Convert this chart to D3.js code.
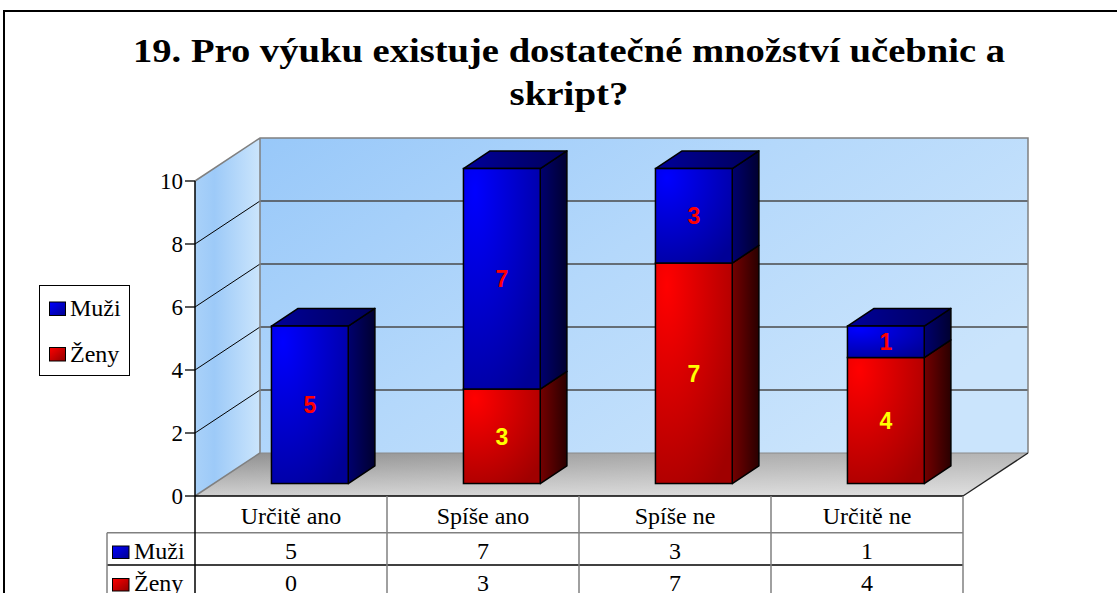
<!DOCTYPE html>
<html>
<head>
<meta charset="utf-8">
<script src="https://cdn.jsdelivr.net/npm/d3@7"></script>
<style>
  html,body{margin:0;padding:0;background:#fff;}
  svg{display:block;}
</style>
</head>
<body>
<svg id="chart" width="1117" height="593"></svg>
<script>
const titleLines = ["19. Pro výuku existuje dostatečné množství učebnic a", "skript?"];
const categories = ["Určitě ano", "Spíše ano", "Spíše ne", "Určitě ne"];
const seriesNames = ["Muži", "Ženy"];
const muzi = [5, 7, 3, 1];
const zeny = [0, 3, 7, 4];
const yTicks = [0, 2, 4, 6, 8, 10];

const svg = d3.select("#chart");
const defs = svg.append("defs");
const serif = "'Liberation Serif', 'Times New Roman', serif";

// geometry
const frontX0 = 195, frontX1 = 963;
const depthX = 65, depthY = -43;
const x = d3.scaleBand().domain(categories).range([frontX0, frontX1]);
const y = d3.scaleLinear().domain([0, 10]).range([496, 181]);
const barFront = 0.29, barDepth = 0.41, barWidthFrac = 0.4;

// gradients
function linGrad(id, x1, y1, x2, y2, stops) {
  const g = defs.append("linearGradient").attr("id", id)
    .attr("x1", x1).attr("y1", y1).attr("x2", x2).attr("y2", y2);
  stops.forEach(s => g.append("stop").attr("offset", s[0]).attr("stop-color", s[1]));
}
function radGrad(id, cx, cy, r, stops) {
  const g = defs.append("radialGradient").attr("id", id)
    .attr("cx", cx).attr("cy", cy).attr("r", r).attr("fx", cx).attr("fy", cy);
  stops.forEach(s => g.append("stop").attr("offset", s[0]).attr("stop-color", s[1]));
}
linGrad("backWall", "0", "0", "1", "0.6", [[0, "#98c8f9"], [0.5, "#b4d8fb"], [1, "#cae4fc"]]);
linGrad("sideWall", "0", "0", "1", "0", [[0, "#a9d1f9"], [0.3, "#9dcaf8"], [1, "#cbe5fc"]]);
linGrad("floor", "0", "0", "0", "1", [[0, "#8e8e8e"], [1, "#d0d0d0"]]);
linGrad("floorLight", "0", "0", "1", "0", [[0, "rgba(255,255,255,0)"], [0.6, "rgba(255,255,255,0.25)"], [1, "rgba(255,255,255,0.35)"]]);
radGrad("blueFront", "0.15", "0.1", "1.1", [[0, "#0000ff"], [1, "#000096"]]);
radGrad("redFront", "0.15", "0.1", "1.1", [[0, "#ff0000"], [1, "#a00000"]]);
linGrad("blueSide", "0", "0", "1", "0", [[0, "#00006e"], [1, "#000030"]]);
linGrad("redSide", "0", "0", "1", "0", [[0, "#740000"], [1, "#2a0000"]]);
linGrad("blueTop", "0", "0", "1", "0", [[0, "#00009a"], [1, "#00005a"]]);
linGrad("blueKey", "0", "0", "1", "1", [[0, "#0000ff"], [1, "#000090"]]);
linGrad("redKey", "0", "0", "1", "1", [[0, "#ff0000"], [1, "#900000"]]);

// frame
svg.append("rect").attr("x", 4).attr("y", 11).attr("width", 1140).attr("height", 620)
  .attr("fill", "#fff").attr("stroke", "#000").attr("stroke-width", 2);

// title
svg.selectAll("text.title").data(titleLines).join("text")
  .attr("class", "title")
  .attr("x", 569).attr("y", (d, i) => 62 + i * 43)
  .attr("text-anchor", "middle")
  .attr("font-family", serif)
  .attr("font-weight", "bold").attr("font-size", 34)
  .attr("textLength", (d, i) => i === 0 ? 872 : 119)
  .attr("lengthAdjust", "spacingAndGlyphs")
  .text(d => d);

const y0 = y(0), y10 = y(10);
const bx0 = frontX0 + depthX, bx1 = frontX1 + depthX;

// side wall
svg.append("polygon")
  .attr("points", [[frontX0, y0], [frontX0, y10], [bx0, y10 + depthY], [bx0, y0 + depthY]].join(" "))
  .attr("fill", "url(#sideWall)").attr("stroke", "none");
// back wall
svg.append("rect").attr("x", bx0).attr("y", y10 + depthY)
  .attr("width", bx1 - bx0).attr("height", y0 - y10)
  .attr("fill", "url(#backWall)");
// floor
const floorPts = [[frontX0, y0], [frontX1, y0], [bx1, y0 + depthY], [bx0, y0 + depthY]].join(" ");
svg.append("polygon").attr("points", floorPts).attr("fill", "url(#floor)");
svg.append("polygon").attr("points", floorPts).attr("fill", "url(#floorLight)");

// gridlines on back wall and side wall
const gridTicks = yTicks.filter(t => t > 0 && t < 10);
svg.selectAll("line.gridBack").data(gridTicks).join("line")
  .attr("x1", bx0).attr("x2", bx1)
  .attr("y1", d => y(d) + depthY).attr("y2", d => y(d) + depthY)
  .attr("stroke", "#4a4a4a").attr("stroke-width", 1.3);
svg.selectAll("line.gridSide").data(gridTicks).join("line")
  .attr("x1", frontX0).attr("x2", bx0)
  .attr("y1", d => y(d)).attr("y2", d => y(d) + depthY)
  .attr("stroke", "#000").attr("stroke-width", 1);

// wall borders
svg.append("path")
  .attr("d", `M${frontX0},${y10} L${bx0},${y10 + depthY} L${bx1},${y10 + depthY} L${bx1},${y0 + depthY} M${bx0},${y10 + depthY} L${bx0},${y0 + depthY} L${frontX0},${y0}`)
  .attr("fill", "none").attr("stroke", "#808080").attr("stroke-width", 1.5);
svg.append("line").attr("x1", bx0).attr("x2", bx1).attr("y1", y0 + depthY).attr("y2", y0 + depthY)
  .attr("stroke", "#8a8a8a").attr("stroke-width", 1);
// floor right edge
svg.append("line").attr("x1", frontX1).attr("y1", y0).attr("x2", bx1).attr("y2", y0 + depthY)
  .attr("stroke", "#222").attr("stroke-width", 1.3);

// bars
const fdx = depthX * barFront, fdy = depthY * barFront;
const ddx = depthX * barDepth, ddy = depthY * barDepth;
const bw = x.bandwidth() * barWidthFrac;

const segs = [];
categories.forEach((c, i) => {
  const cx = x(c) + x.bandwidth() / 2 + fdx;
  const xl = cx - bw / 2, xr = cx + bw / 2;
  const stack = [
    {v: zeny[i], color: "red", label: "#ffff00"},
    {v: muzi[i], color: "blue", label: "#ff0000"}
  ];
  let base = 0;
  const nonzero = stack.filter(s => s.v > 0);
  stack.forEach(s => {
    if (s.v > 0) {
      segs.push({xl, xr, cx, yb: y(base) + fdy, yt: y(base + s.v) + fdy, v: s.v, color: s.color, label: s.label,
        top: s === nonzero[nonzero.length - 1]});
    }
    base += s.v;
  });
});

const gBars = svg.append("g");
segs.forEach(s => {
  const g = gBars.append("g");
  g.append("polygon")
    .attr("points", [[s.xr, s.yt], [s.xr + ddx, s.yt + ddy], [s.xr + ddx, s.yb + ddy], [s.xr, s.yb]].join(" "))
    .attr("fill", `url(#${s.color}Side)`).attr("stroke", "#000").attr("stroke-width", 1.5).attr("stroke-linejoin", "round");
  if (s.top) {
    g.append("polygon")
      .attr("points", [[s.xl, s.yt], [s.xr, s.yt], [s.xr + ddx, s.yt + ddy], [s.xl + ddx, s.yt + ddy]].join(" "))
      .attr("fill", `url(#${s.color}Top)`).attr("stroke", "#000").attr("stroke-width", 1.5).attr("stroke-linejoin", "round");
  }
  g.append("rect").attr("x", s.xl).attr("y", s.yt).attr("width", s.xr - s.xl).attr("height", s.yb - s.yt)
    .attr("fill", `url(#${s.color}Front)`).attr("stroke", "#000").attr("stroke-width", 1.5);
});
gBars.selectAll("text").data(segs).join("text")
  .attr("x", d => d.cx).attr("y", d => (d.yt + d.yb) / 2 + 8.5)
  .attr("text-anchor", "middle")
  .attr("font-family", "'Liberation Sans', Arial, sans-serif")
  .attr("font-weight", "bold").attr("font-size", 23)
  .attr("fill", d => d.label)
  .text(d => d.v);

// y axis
svg.append("line").attr("x1", frontX0).attr("x2", frontX0).attr("y1", y10).attr("y2", y0)
  .attr("stroke", "#000").attr("stroke-width", 1.5);
svg.selectAll("line.tick").data(yTicks).join("line")
  .attr("x1", frontX0 - 10).attr("x2", frontX0)
  .attr("y1", d => y(d)).attr("y2", d => y(d))
  .attr("stroke", "#000").attr("stroke-width", 1.3);
svg.selectAll("text.ytick").data(yTicks).join("text")
  .attr("x", frontX0 - 12).attr("y", d => y(d) + 7.5)
  .attr("text-anchor", "end")
  .attr("font-family", serif)
  .attr("font-size", 23)
  .text(d => d);

// legend
svg.append("rect").attr("x", 39.5).attr("y", 285.5).attr("width", 90).attr("height", 90)
  .attr("fill", "#fff").attr("stroke", "#000").attr("stroke-width", 1);
const legendKeys = ["blueKey", "redKey"];
seriesNames.forEach((n, i) => {
  svg.append("rect").attr("x", 49.5).attr("y", 302 + i * 45.5).attr("width", 16).attr("height", 13.5)
    .attr("fill", `url(#${legendKeys[i]})`).attr("stroke", "#000").attr("stroke-width", 1);
  svg.append("text").attr("x", 70).attr("y", 316 + i * 45.5)
    .attr("font-family", serif).attr("font-size", 24)
    .text(n);
});

// data table
const rowTop = 496, headerBottom = 532.7, row1Bottom = 565, row2Bottom = 598, labelLeft = 107;
const colEdges = categories.map(c => x(c)).concat([frontX1]);
svg.selectAll("text.cat").data(categories).join("text")
  .attr("x", d => x(d) + x.bandwidth() / 2).attr("y", 523.5)
  .attr("text-anchor", "middle")
  .attr("font-family", serif).attr("font-size", 24)
  .text(d => d);
svg.append("line").attr("x1", frontX0).attr("x2", frontX1).attr("y1", rowTop).attr("y2", rowTop)
  .attr("stroke", "#000").attr("stroke-width", 1.5);
svg.append("line").attr("x1", labelLeft).attr("x2", frontX1).attr("y1", headerBottom).attr("y2", headerBottom)
  .attr("stroke", "#808080").attr("stroke-width", 1.5);
svg.append("line").attr("x1", labelLeft).attr("x2", frontX1).attr("y1", row1Bottom).attr("y2", row1Bottom)
  .attr("stroke", "#000").attr("stroke-width", 1.3);
svg.selectAll("line.col").data(colEdges).join("line")
  .attr("x1", d => d).attr("x2", d => d).attr("y1", rowTop).attr("y2", row2Bottom)
  .attr("stroke", (d, i) => i === 0 ? "#000" : "#808080").attr("stroke-width", 1.5);
svg.append("line").attr("x1", labelLeft).attr("x2", labelLeft).attr("y1", headerBottom).attr("y2", row2Bottom)
  .attr("stroke", "#808080").attr("stroke-width", 1.5);
const rows = [muzi, zeny];
rows.forEach((vals, r) => {
  const base = r === 0 ? 558.5 : 591;
  svg.append("rect").attr("x", 112.5).attr("y", base - 12.5).attr("width", 16.5).attr("height", 12.5)
    .attr("fill", `url(#${legendKeys[r]})`).attr("stroke", "#000").attr("stroke-width", 1);
  svg.append("text").attr("x", 134).attr("y", base)
    .attr("font-family", serif).attr("font-size", 24)
    .text(seriesNames[r]);
  svg.selectAll(null).data(vals).join("text")
    .attr("x", (d, i) => x(categories[i]) + x.bandwidth() / 2).attr("y", base)
    .attr("text-anchor", "middle")
    .attr("font-family", serif).attr("font-size", 24)
    .text(d => d);
});
</script>
</body>
</html>
